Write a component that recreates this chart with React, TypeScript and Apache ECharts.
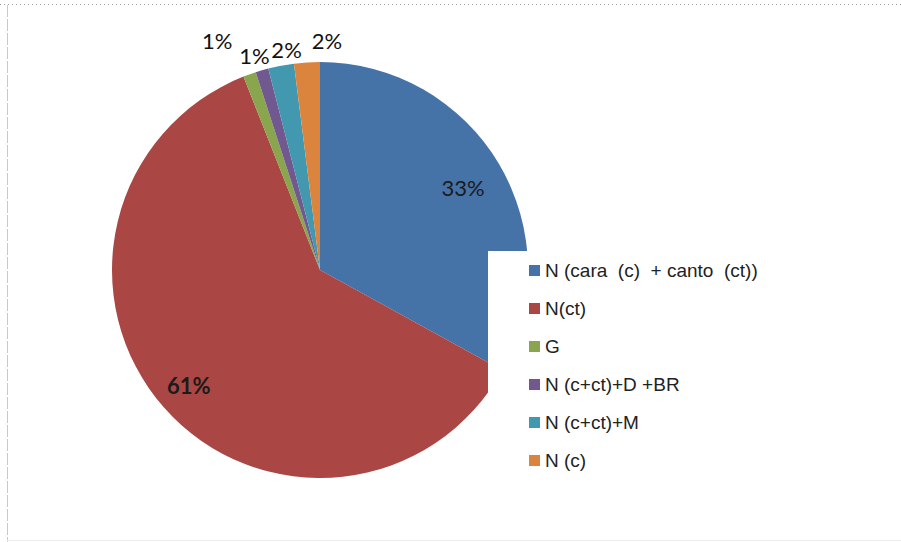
import React, { useEffect, useRef } from "react";
import * as echarts from "echarts";

const categories = [
  "N (cara  (c)  + canto  (ct))",
  "N(ct)",
  "G",
  "N (c+ct)+D +BR",
  "N (c+ct)+M",
  "N (c)",
];
const values = [33, 61, 1, 1, 2, 2];
const colors = ["#4572A7", "#AA4643", "#89A54E", "#71588F", "#4198AF", "#DB843D"];
const insideSlices = [true, true, false, false, false, false];

// label nudges (pixels) relative to ECharts' default label anchor
const labelShift = [
  [51, -28],
  [-51, 45],
  [-8, -23],
  [16, -3],
  [28, -4],
  [41, -10],
];

export default function App() {
  const ref = useRef<HTMLDivElement>(null);
  useEffect(() => {
    if (!ref.current) return;
    const chart = echarts.init(ref.current, null, { renderer: "svg" });
    const data = categories.map((name, i) => ({
      name,
      value: values[i],
      itemStyle: { color: colors[i] },
      label: insideSlices[i]
        ? {
            position: "inside",
            fontSize: 22,
            fontWeight: i === 1 ? "bold" : "normal",
            color: "#1b1b1b",
          }
        : { position: "outside", fontSize: 22, color: "#111" },
    }));
    chart.setOption({
      animation: false,
      backgroundColor: "#fff",
      graphic: [
        {
          type: "line",
          shape: { x1: 0, y1: 4.5, x2: 901, y2: 4.5 },
          style: { stroke: "#9a9a9a", lineWidth: 1, lineDash: [1, 3] },
        },
        {
          type: "line",
          shape: { x1: 7.5, y1: 5, x2: 7.5, y2: 542 },
          style: { stroke: "#c8c8c8", lineWidth: 1, lineDash: [12, 2] },
        },
        {
          type: "line",
          shape: { x1: 7, y1: 540.5, x2: 901, y2: 540.5 },
          style: { stroke: "#ececec", lineWidth: 1 },
        },
      ],
      legend: {
        orient: "vertical",
        left: 488,
        top: 251,
        data: categories,
        icon: "rect",
        itemWidth: 11,
        itemHeight: 11,
        itemGap: 19,
        padding: [10, 40, 14, 41],
        backgroundColor: "#ffffff",
        textStyle: {
          fontFamily: "Liberation Sans",
          fontSize: 19,
          color: "#222",
        },
      },
      series: [
        {
          type: "pie",
          center: [320, 270],
          radius: 208,
          startAngle: 90,
          clockwise: true,
          avoidLabelOverlap: false,
          silent: true,
          data,
          label: {
            show: true,
            fontFamily: "Lato",
            formatter: (p: any) => Math.round(p.percent) + "%",
            alignTo: "none",
          },
          labelLine: { show: false, length: 12, length2: 0 },
          labelLayout: (p: any) => {
            const s = labelShift[p.dataIndex];
            return { dx: s[0], dy: s[1] };
          },
          emphasis: { disabled: true },
        },
      ],
    });
    return () => chart.dispose();
  }, []);
  return (
    <div
      ref={ref}
      style={{ position: "absolute", left: 0, top: 0, width: 901, height: 542 }}
    />
  );
}
